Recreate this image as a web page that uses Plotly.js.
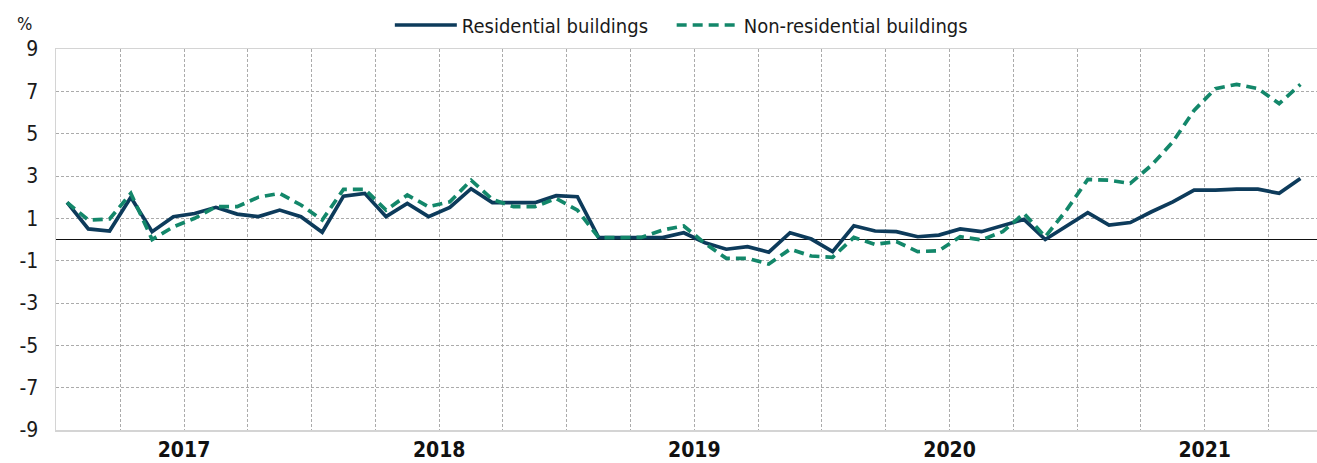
<!DOCTYPE html>
<html>
<head>
<meta charset="utf-8">
<script src="https://cdn.plot.ly/plotly-3.0.1.min.js"></script>
<style>
html, body { margin: 0; padding: 0; background: #fff; }
#chart { width: 1317px; height: 463px; }
</style>
</head>
<body>
<div id="chart"></div>
<script>
// Monthly observations, Jan 2017 .. Nov 2021 (index 0..58)
const months = [
  "2017-01","2017-02","2017-03","2017-04","2017-05","2017-06","2017-07","2017-08","2017-09","2017-10","2017-11","2017-12",
  "2018-01","2018-02","2018-03","2018-04","2018-05","2018-06","2018-07","2018-08","2018-09","2018-10","2018-11","2018-12",
  "2019-01","2019-02","2019-03","2019-04","2019-05","2019-06","2019-07","2019-08","2019-09","2019-10","2019-11","2019-12",
  "2020-01","2020-02","2020-03","2020-04","2020-05","2020-06","2020-07","2020-08","2020-09","2020-10","2020-11","2020-12",
  "2021-01","2021-02","2021-03","2021-04","2021-05","2021-06","2021-07","2021-08","2021-09","2021-10","2021-11"
];

const residential = [
  1.75, 0.5, 0.4, 2.0, 0.37, 1.08, 1.23, 1.52, 1.2, 1.08, 1.39, 1.08,
  0.34, 2.05, 2.18, 1.08, 1.7, 1.08, 1.52, 2.4, 1.74, 1.74, 1.74, 2.07,
  2.02, 0.09, 0.09, 0.09, 0.09, 0.32, -0.15, -0.46, -0.34, -0.6, 0.32, 0.02,
  -0.57, 0.65, 0.4, 0.37, 0.13, 0.21, 0.5, 0.37, 0.64, 0.95, 0.0, 0.64,
  1.27, 0.68, 0.8, 1.31, 1.78, 2.33, 2.33, 2.38, 2.38, 2.18, 2.88
];

const nonResidential = [
  1.75, 0.92, 0.97, 2.18, 0.0, 0.6, 1.0, 1.55, 1.55, 2.0, 2.18, 1.63,
  0.92, 2.37, 2.37, 1.39, 2.1, 1.55, 1.78, 2.8, 1.9, 1.55, 1.55, 1.94,
  1.39, 0.09, 0.09, 0.1, 0.45, 0.64, -0.18, -0.89, -0.89, -1.16, -0.46, -0.78,
  -0.84, 0.1, -0.23, -0.1, -0.57, -0.53, 0.13, -0.02, 0.37, 1.23, 0.13, 1.39,
  2.84, 2.8, 2.65, 3.51, 4.61, 6.1, 7.13, 7.33, 7.13, 6.42, 7.33
];

const yearLabels = ["2017", "2018", "2019", "2020", "2021"];
const yTicks = [-9, -7, -5, -3, -1, 1, 3, 5, 7, 9];
const seriesNames = ["Residential buildings", "Non-residential buildings"];

const idx = months.map((m, i) => i);

// quarter boundaries for vertical grid, year label at mid-year boundary
const xTickVals = [];
const xTickText = [];
for (let q = 2.5; q < months.length; q += 3) {
  xTickVals.push(q);
  const k = (q - 5.5) / 12;
  if (Number.isInteger(k) && k >= 0 && k < yearLabels.length) xTickText.push(yearLabels[k]);
  else xTickText.push("");
}

const FONT = "'Liberation Sans Narrow', 'Arial Narrow', 'DejaVu Sans Condensed', sans-serif";
const NAVY = "#0d3b5b";
const GREEN = "#13876a";

const traces = [
  {
    x: idx, y: residential, name: seriesNames[0], type: "scatter", mode: "lines",
    line: { color: NAVY, width: 3.7 }, hoverinfo: "skip", legend: "legend"
  },
  {
    x: idx, y: nonResidential, name: seriesNames[1], type: "scatter", mode: "lines",
    line: { color: GREEN, width: 3.7, dash: "10px,6px" }, hoverinfo: "skip", legend: "legend2"
  }
];

const legendBase = {
  orientation: "h", xanchor: "left", xref: "container",
  y: 0.946, yanchor: "middle", yref: "container",
  itemwidth: 62,
  font: { family: FONT, size: 20, color: "#1a1a1a" },
  bgcolor: "rgba(0,0,0,0)", itemclick: false
};

const layout = {
  width: 1317, height: 463,
  margin: { l: 56, r: 0, t: 49, b: 33 },
  paper_bgcolor: "#fff", plot_bgcolor: "#fff",
  font: { family: FONT, size: 20, color: "#1a1a1a" },
  showlegend: true,
  legend: Object.assign({}, legendBase, { x: 0.296 }),
  legend2: Object.assign({}, legendBase, { x: 0.510 }),
  xaxis: {
    range: [-0.52, 58.78],
    tickmode: "array", tickvals: xTickVals, ticktext: xTickText,
    ticks: "", showgrid: true, gridcolor: "#ababab", gridwidth: 1, griddash: "3px,2px",
    showline: true, linecolor: "#d4d4d4", linewidth: 1.5, mirror: true,
    zeroline: false,
    tickfont: { family: FONT, size: 21, color: "#111", weight: 700 },
    ticklabelstandoff: 0
  },
  yaxis: {
    range: [-9, 9],
    tickmode: "array", tickvals: yTicks, ticktext: yTicks.map(String),
    ticks: "", showgrid: true, gridcolor: "#ababab", gridwidth: 1, griddash: "3px,2px",
    showline: true, linecolor: "#d4d4d4", linewidth: 1.5,
    zeroline: true, zerolinecolor: "#111", zerolinewidth: 1.2,
    tickfont: { family: FONT, size: 21, color: "#1a1a1a" },
    ticklabelstandoff: 12
  },
  annotations: [
    { text: "%", xref: "paper", yref: "paper", x: -0.0325, y: 1.035, xanchor: "left", yanchor: "bottom",
      showarrow: false, font: { family: FONT, size: 18, color: "#1a1a1a" } }
  ]
};

Plotly.newPlot("chart", traces, layout, { staticPlot: true, displayModeBar: false });
</script>
</body>
</html>
